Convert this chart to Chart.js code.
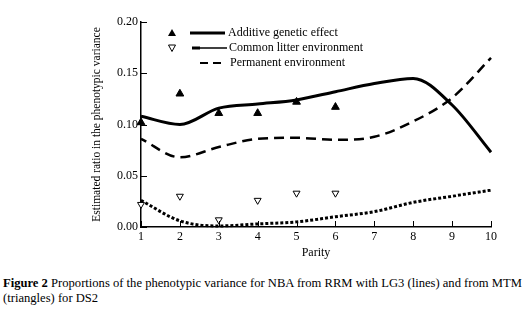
<!DOCTYPE html>
<html>
<head>
<meta charset="utf-8">
<script src="https://cdn.jsdelivr.net/npm/chart.js@4/dist/chart.umd.min.js"></script>
<style>
  body { margin: 0; background: #fff; }
  #wrap { position: relative; width: 531px; height: 265px; }
  #caption {
    position: absolute; left: 3px; top: 276px; width: 528px;
    font-family: 'Liberation Serif', serif; font-size: 12.6px; line-height: 15px; color: #000;
  }
</style>
</head>
<body>
<div id="wrap"><canvas id="chart" width="531" height="265"></canvas></div>
<div id="caption"><b>Figure 2</b> Proportions of the phenotypic variance for NBA from RRM with LG3 (lines) and from MTM (triangles) for DS2</div>
<script>
const parity = [1, 2, 3, 4, 5, 6, 7, 8, 9, 10]
const additive = [0.108, 0.100, 0.116, 0.120, 0.124, 0.132, 0.140, 0.145, 0.119, 0.073]
const litter = [0.026, 0.006, 0.001, 0.003, 0.005, 0.010, 0.015, 0.024, 0.030, 0.036]
const permanent = [0.086, 0.068, 0.078, 0.086, 0.087, 0.085, 0.088, 0.103, 0.126, 0.165]
const mtmParity = [1, 2, 3, 4, 5, 6]
const mtmAdditive = [0.102, 0.130, 0.111, 0.111, 0.122, 0.117]
const mtmLitter = [0.022, 0.030, 0.007, 0.026, 0.033, 0.033]
const legendLabels = ['Additive genetic effect', 'Common litter environment', 'Permanent environment']
const yTicks = [0, 0.05, 0.1, 0.15, 0.2]

const serif = 'Liberation Serif'
const pts = (xs, ys) => xs.map((x, i) => ({ x: x, y: ys[i] }))

// inward tick marks + hand-made legend
const extras = {
  id: 'extras',
  afterDraw(chart) {
    const ctx = chart.ctx
    const xs = chart.scales.x
    const ys = chart.scales.y
    const area = chart.chartArea
    ctx.save()
    ctx.strokeStyle = '#000'
    ctx.lineWidth = 1
    ctx.setLineDash([])
    parity.forEach((p) => {
      const px = Math.round(xs.getPixelForValue(p)) + 0.5
      ctx.beginPath()
      ctx.moveTo(px, area.bottom)
      ctx.lineTo(px, area.bottom - 6)
      ctx.stroke()
    })
    yTicks.forEach((v) => {
      const py = Math.round(ys.getPixelForValue(v)) + 0.5
      ctx.beginPath()
      ctx.moveTo(area.left, py)
      ctx.lineTo(area.left + 6, py)
      ctx.stroke()
    })

    // legend
    const rows = [33, 48, 63]
    ctx.fillStyle = '#000'
    ctx.font = '12px "' + serif + '"'
    ctx.textBaseline = 'middle'
    ctx.textAlign = 'left'
    ctx.fillText(legendLabels[0], 228, rows[0])
    ctx.fillText(legendLabels[1], 229, rows[1])
    ctx.fillText(legendLabels[2], 230, rows[2])

    ctx.lineWidth = 3
    ctx.beginPath(); ctx.moveTo(190, rows[0]); ctx.lineTo(225, rows[0]); ctx.stroke()
    ctx.lineWidth = 1.6
    ctx.beginPath(); ctx.moveTo(192, rows[1]); ctx.lineTo(227, rows[1]); ctx.stroke()
    ctx.lineWidth = 3
    ctx.beginPath(); ctx.moveTo(192, rows[1]); ctx.lineTo(200, rows[1]); ctx.stroke()
    ctx.lineWidth = 2
    ctx.setLineDash([8, 5])
    ctx.beginPath(); ctx.moveTo(200, rows[2]); ctx.lineTo(226, rows[2]); ctx.stroke()
    ctx.setLineDash([])

    // legend markers
    ctx.lineWidth = 1
    ctx.beginPath()
    ctx.moveTo(172, rows[0] - 4); ctx.lineTo(176, rows[0] + 3); ctx.lineTo(168, rows[0] + 3); ctx.closePath()
    ctx.fill()
    ctx.beginPath()
    ctx.moveTo(172, rows[1] + 3.5); ctx.lineTo(175.5, rows[1] - 3); ctx.lineTo(168.5, rows[1] - 3); ctx.closePath()
    ctx.stroke()
    ctx.restore()
  },
}

new Chart(document.getElementById('chart'), {
  type: 'line',
  plugins: [extras],
  data: {
    datasets: [
      {
        label: legendLabels[0],
        data: pts(parity, additive),
        borderColor: '#000',
        borderWidth: 3,
        pointRadius: 0,
        cubicInterpolationMode: 'monotone',
        fill: false,
      },
      {
        label: legendLabels[1],
        data: pts(parity, litter),
        borderColor: '#000',
        borderWidth: 3,
        borderDash: [3, 2],
        pointRadius: 0,
        cubicInterpolationMode: 'monotone',
        fill: false,
      },
      {
        label: legendLabels[2],
        data: pts(parity, permanent),
        borderColor: '#000',
        borderWidth: 2.5,
        borderDash: [10, 6],
        borderDashOffset: 4,
        pointRadius: 0,
        cubicInterpolationMode: 'monotone',
        fill: false,
      },
      {
        label: 'MTM additive',
        data: pts(mtmParity, mtmAdditive),
        showLine: false,
        pointStyle: 'triangle',
        pointRadius: 4.5,
        backgroundColor: '#000',
        borderColor: '#000',
        borderWidth: 1,
      },
      {
        label: 'MTM litter',
        data: pts(mtmParity, mtmLitter),
        showLine: false,
        pointStyle: 'triangle',
        rotation: 180,
        pointRadius: 4,
        backgroundColor: '#fff',
        borderColor: '#000',
        borderWidth: 1,
      },
    ],
  },
  options: {
    responsive: false,
    animation: false,
    clip: false,
    layout: { padding: { left: 90, right: 40, top: 22, bottom: 0 } },
    plugins: {
      legend: { display: false },
      tooltip: { enabled: false },
    },
    scales: {
      x: {
        type: 'linear',
        min: 1,
        max: 10,
        grid: { display: false, drawTicks: false },
        border: { display: true, color: '#000', width: 1.5 },
        ticks: { stepSize: 1, padding: 3, color: '#000', font: { family: serif, size: 12 } },
        title: { display: true, text: 'Parity', color: '#000', padding: { top: 2, bottom: 5 }, font: { family: serif, size: 12 } },
        afterFit: (scale) => { scale.height = 38 },
      },
      y: {
        min: 0,
        max: 0.2,
        grid: { display: false, drawTicks: false },
        border: { display: true, color: '#000', width: 1.5 },
        ticks: {
          stepSize: 0.05,
          padding: 3,
          color: '#000',
          font: { family: serif, size: 12 },
          callback: (v) => v.toFixed(2),
        },
        title: {
          display: true,
          text: 'Estimated ratio in the phenotypic variance',
          color: '#000',
          padding: { top: 0, bottom: 0 },
          font: { family: serif, size: 11.5 },
        },
        afterFit: (scale) => { scale.width = 51 },
      },
    },
  },
})
</script>
</body>
</html>
